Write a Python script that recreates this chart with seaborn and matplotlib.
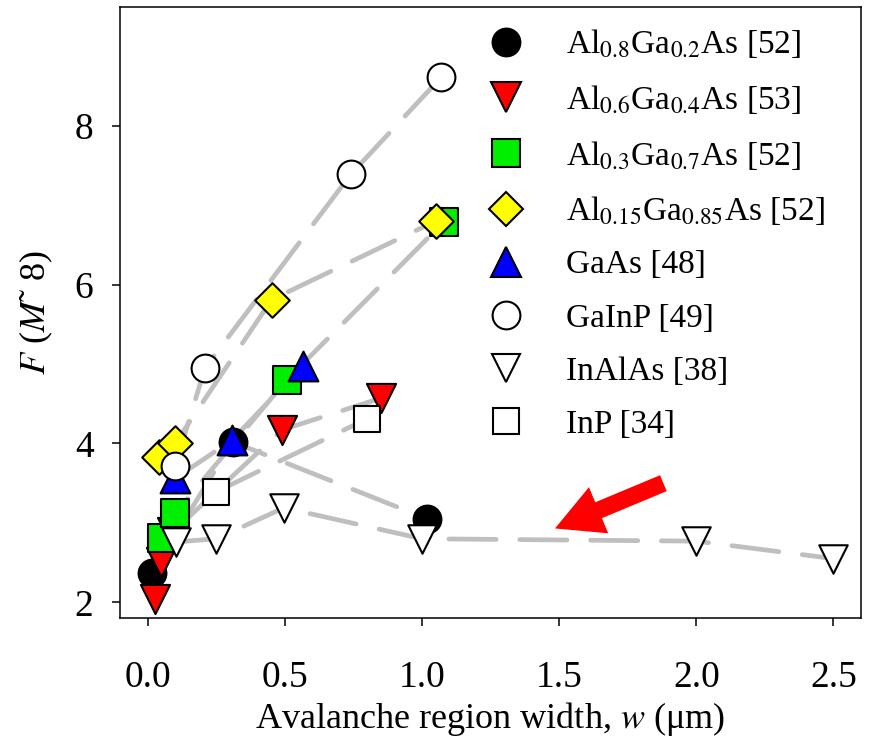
import numpy as np
import pandas as pd
import matplotlib
matplotlib.use('Agg')
import matplotlib.pyplot as plt
import seaborn as sns
from matplotlib.lines import Line2D

## Data
al08_w = [0.015, 0.31, 1.02]
al08_F = [2.37, 4.02, 3.05]
al06_w = [0.026, 0.047, 0.09, 0.49, 0.85]
al06_F = [2.04, 2.51, 2.88, 4.17, 4.57]
al03_w = [0.051, 0.10, 0.507, 1.08]
al03_F = [2.81, 3.12, 4.80, 6.79]
al015_w = [0.042, 0.10, 0.452, 1.05]
al015_F = [3.83, 4.00, 5.81, 6.80]
gaas_w = [0.10, 0.307, 0.566]
gaas_F = [3.56, 4.04, 4.98]
gainp_w = [0.10, 0.209, 0.741, 1.07]
gainp_F = [3.71, 4.95, 7.39, 8.61]
inalas_w = [0.103, 0.25, 0.497, 1.0, 2.0, 2.5]
inalas_F = [2.76, 2.80, 3.19, 2.80, 2.77, 2.55]
inp_w = [0.249, 0.80]
inp_F = [3.39, 4.31]

labels = [r'Al$_{0.8}$Ga$_{0.2}$As [52]',
          r'Al$_{0.6}$Ga$_{0.4}$As [53]',
          r'Al$_{0.3}$Ga$_{0.7}$As [52]',
          r'Al$_{0.15}$Ga$_{0.85}$As [52]',
          'GaAs [48]',
          'GaInP [49]',
          'InAlAs [38]',
          'InP [34]']
xticks = [0.0, 0.5, 1.0, 1.5, 2.0, 2.5]
yticks = [2, 4, 6, 8]

# style per series
markers = ['o', 'v', 's', 'D', '^', 'o', 'v', 's']
colors = ['black', 'red', '#00ee00', 'yellow', 'blue', 'white', 'white', 'white']
sizes = [400, 440, 380, 310, 460, 400, 420, 330]

ws = [al08_w, al06_w, al03_w, al015_w, gaas_w, gainp_w, inalas_w, inp_w]
Fs = [al08_F, al06_F, al03_F, al015_F, gaas_F, gainp_F, inalas_F, inp_F]

sns.set_style('ticks')
plt.rcParams['font.family'] = ['Liberation Serif', 'DejaVu Serif']
plt.rcParams['mathtext.fontset'] = 'stix'
plt.rcParams['text.color'] = 'black'
plt.rcParams['axes.labelcolor'] = 'black'
plt.rcParams['xtick.color'] = 'black'
plt.rcParams['ytick.color'] = 'black'

fig, ax = plt.subplots(figsize=(8.69, 7.37), dpi=100)
fig.subplots_adjust(left=0.138, right=0.991, bottom=0.161, top=0.9905)

# dashed grey connecting lines
for w, F in zip(ws, Fs):
    sns.lineplot(x=w, y=F, ax=ax, color='#bfbfbf', lw=3.4, linestyle=(0, (10, 5)),
                 dash_capstyle='round', estimator=None, sort=False, legend=False, zorder=1)

# markers
for w, F, m, c, s in zip(ws, Fs, markers, colors, sizes):
    sns.scatterplot(x=w, y=F, ax=ax, marker=m, color=c, edgecolor='black',
                    linewidth=1.5, s=s, legend=False, zorder=3)

# red arrow
ax.annotate('', xy=(1.485, 2.93), xytext=(1.88, 3.50),
            arrowprops=dict(arrowstyle='simple,head_length=1.7,head_width=1.8,tail_width=0.62',
                            mutation_scale=20, color='red', lw=0, shrinkA=0, shrinkB=0),
            zorder=4)

# legend
handles = [Line2D([], [], ls='none', marker=m, markerfacecolor=c, markeredgecolor='black',
                  markeredgewidth=1.5, markersize=np.sqrt(s))
           for m, c, s in zip(markers, colors, sizes)]
ax.legend(handles, labels, loc='upper left', bbox_to_anchor=(0.498, 0.967),
          frameon=False, fontsize=24, handlelength=1.0, handletextpad=1.3,
          borderpad=0, borderaxespad=0, labelspacing=0.68)

ax.set_xlim(-0.101, 2.601)
ax.set_ylim(1.798, 9.495)
ax.set_xticks(xticks)
ax.set_xticklabels([f'{t:.1f}' for t in xticks])
ax.set_yticks(yticks)
ax.tick_params(labelsize=27, length=6, width=1.1, color='black', direction='out')
ax.tick_params(axis='x', pad=24)
ax.tick_params(axis='y', pad=13)
for sp in ax.spines.values():
    sp.set_color('black')
    sp.set_linewidth(1.1)

ax.set_xlabel('Avalanche region width, $w$ (μm)', fontsize=26, labelpad=4)
ax.set_ylabel('$F$ ($M$\u02dc 8)', fontsize=26, labelpad=14)

plt.savefig('out.png', dpi=100)
